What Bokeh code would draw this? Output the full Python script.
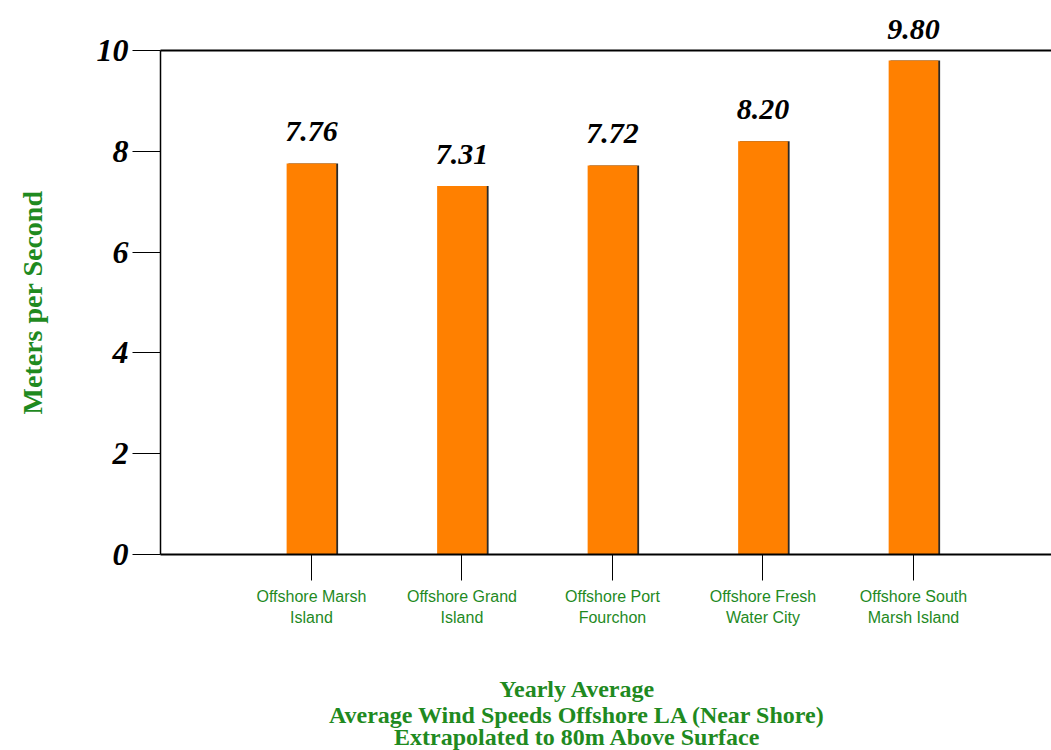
from bokeh.plotting import figure
from bokeh.models import (Range1d, FixedTicker, LabelSet, Label, ColumnDataSource,
                          LinearAxis)
from bokeh.transform import dodge
from bokeh.core.properties import value
from bokeh.embed import file_html
from bokeh.resources import INLINE

# ---- data ----
categories = [
    "Offshore Marsh\nIsland",
    "Offshore Grand\nIsland",
    "Offshore Port\nFourchon",
    "Offshore Fresh\nWater City",
    "Offshore South\nMarsh Island",
]
speeds = [7.76, 7.31, 7.72, 8.20, 9.80]
y_ticks = [0, 2, 4, 6, 8, 10]
y_title = "Meters per Second"
title_lines = [
    "Yearly Average",
    "Average Wind Speeds Offshore LA (Near Shore)",
    "Extrapolated to 80m Above Surface",
]

GREEN = "#1f8a1f"
ORANGE = "#ff8000"

xs = list(range(len(categories)))
src = ColumnDataSource(dict(x=xs, speed=speeds, label=[f"{v:.2f}" for v in speeds]))

# The frame covers the whole canvas; axes are pinned with fixed_location so that
# the value labels and titles outside the axis box are not clipped.
X_LEFT = -1.003          # where the value axis sits
X_RIGHT = 4.917
p = figure(
    width=1051, height=750,
    x_range=Range1d(-2.066, X_RIGHT), y_range=Range1d(-3.889, 10.992),
    output_backend="svg", toolbar_location=None,
    min_border_left=0, min_border_right=0,
    min_border_top=0, min_border_bottom=0,
)
p.outline_line_color = None
p.grid.visible = False
p.background_fill_color = "white"
p.border_fill_color = "white"

# bars with a thin dark edge on the right
p.vbar(x=dodge("x", 0.012), top="speed", bottom=0, width=0.33, source=src,
       fill_color="#2a2a2a", line_color=None)
p.vbar(x="x", top="speed", bottom=0, width=0.33, source=src,
       fill_color=ORANGE, line_color=None)

# x axis (category axis along y = 0)
xa = p.xaxis[0]
xa.fixed_location = 0
xa.bounds = (X_LEFT, X_RIGHT)
xa.ticker = FixedTicker(ticks=xs)
xa.major_label_overrides = {i: c for i, c in enumerate(categories)}
xa.major_tick_out = 26
xa.major_tick_in = 0
xa.minor_tick_line_color = None
xa.major_tick_line_color = "black"
xa.axis_line_color = "black"
xa.axis_line_width = 2
xa.major_label_text_color = GREEN
xa.major_label_text_font = "Liberation Sans"
xa.major_label_text_font_size = "16px"
xa.major_label_standoff = 8

# y axis
ya = p.yaxis[0]
ya.fixed_location = X_LEFT
ya.bounds = (0, 10)
ya.ticker = FixedTicker(ticks=y_ticks)
ya.major_tick_out = 28
ya.major_tick_in = 0
ya.minor_tick_line_color = None
ya.major_tick_line_color = "black"
ya.axis_line_color = "black"
ya.axis_line_width = 1.5
ya.major_label_text_color = "black"
ya.major_label_text_font = "Liberation Serif"
ya.major_label_text_font_style = "bold italic"
ya.major_label_text_font_size = "32px"
ya.major_label_standoff = 4

# top rule at y = 10
top = LinearAxis(fixed_location=10, bounds=(X_LEFT, X_RIGHT),
                 ticker=FixedTicker(ticks=[]))
top.major_tick_out = 0
top.major_tick_in = 0
top.minor_tick_line_color = None
top.axis_line_color = "black"
top.axis_line_width = 2
p.add_layout(top, "above")

# y axis title
p.add_layout(Label(
    x=-1.854, y=5.0, text=y_title, angle=90, angle_units="deg",
    text_align="center", text_baseline="middle",
    text_font="Liberation Serif", text_font_style="bold",
    text_font_size="28px", text_color=GREEN,
))

# value labels
p.add_layout(LabelSet(
    x="x", y="speed", text="label", source=src,
    text_align="center", text_baseline="alphabetic", y_offset=22,
    text_font=value("Liberation Serif"), text_font_style="bold italic",
    text_font_size="30px", text_color="black",
))

# bottom title lines
title_y = [-2.659, -3.175, -3.631]
for t, ty in zip(title_lines, title_y):
    p.add_layout(Label(
        x=1.767, y=ty, text=t,
        text_align="center", text_baseline="middle",
        text_font="Liberation Serif", text_font_style="bold",
        text_font_size="24px", text_color=GREEN,
    ))

open("out.html", "w").write(file_html(p, INLINE))
